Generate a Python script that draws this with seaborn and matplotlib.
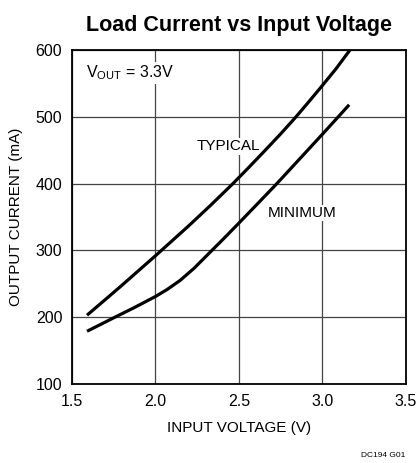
import seaborn as sns
import pandas as pd
import matplotlib.pyplot as plt

# values
v_typical = [1.59, 1.7, 1.8, 1.9, 2.0, 2.1, 2.2, 2.33, 2.464, 2.56, 2.65, 2.75, 2.84, 2.92, 3.0, 3.08, 3.165]
i_typical = [203, 226.5, 248, 270, 292, 314.5, 337, 367.5, 400, 424.5, 448, 474.5, 499.5, 523, 547, 571.5, 600]
v_minimum = [1.59, 1.67, 1.745, 1.87, 2.0, 2.07, 2.147, 2.23, 2.314, 2.41, 2.5, 2.61, 2.727, 2.86, 3.0, 3.093, 3.16]
i_minimum = [179, 189, 198.5, 214, 231, 241.5, 255, 273, 294, 318, 341, 369.5, 400, 436, 474, 499.5, 518]

df = pd.concat([
    pd.DataFrame({"v": v_typical, "i": i_typical, "curve": "TYPICAL"}),
    pd.DataFrame({"v": v_minimum, "i": i_minimum, "curve": "MINIMUM"}),
])

sns.set_style("white")
plt.rcParams["font.family"] = ["Liberation Sans", "DejaVu Sans"]
plt.rcParams["text.color"] = "black"

fig = plt.figure(figsize=(4.19, 4.63), dpi=100)
ax = fig.add_axes([0.1718, 0.1706, 0.797, 0.7214])

sns.lineplot(data=df, x="v", y="i", units="curve", estimator=None, sort=False,
             color="black", linewidth=2.3, ax=ax)
for ln in ax.lines:
    ln.set_solid_capstyle("butt")
    ln.set_solid_joinstyle("round")

ax.set_xlim(1.5, 3.5)
ax.set_ylim(100, 600)
ax.set_xticks([1.5, 2.0, 2.5, 3.0, 3.5])
ax.set_yticks([100, 200, 300, 400, 500, 600])
ax.set_xticklabels(["1.5", "2.0", "2.5", "3.0", "3.5"])
ax.set_axisbelow(True)
ax.grid(True, color="#444444", linewidth=0.9)
ax.tick_params(axis="both", length=0, labelsize=11.5, colors="black")
ax.tick_params(axis="x", pad=7)
ax.tick_params(axis="y", pad=7)
for s in ax.spines.values():
    s.set_color("black")
    s.set_linewidth(1.3)

ax.set_xlabel("INPUT VOLTAGE (V)", fontsize=11, labelpad=9, color="black")
ax.set_ylabel("OUTPUT CURRENT (mA)", fontsize=11, labelpad=9, color="black")
ax.set_title("Load Current vs Input Voltage", fontsize=15.5, fontweight="bold", pad=14)

# labels sit on a white patch (under the curves) so the grid breaks behind them
box = dict(facecolor="white", edgecolor="none", pad=1)
ax.text(1.584, 566, r"V$_{\mathregular{OUT}}$ = 3.3V", fontsize=11.5, va="center", bbox=box, zorder=1.5)
ax.text(2.434, 456, "TYPICAL", fontsize=11, ha="center", va="center", bbox=box, zorder=1.5)
ax.text(2.877, 356, "MINIMUM", fontsize=11, ha="center", va="center", bbox=box, zorder=1.5)

fig.text(0.967, 0.009, "DC194 G01", fontsize=6, ha="right", va="bottom")

fig.savefig("out.png", dpi=100, facecolor="white")
